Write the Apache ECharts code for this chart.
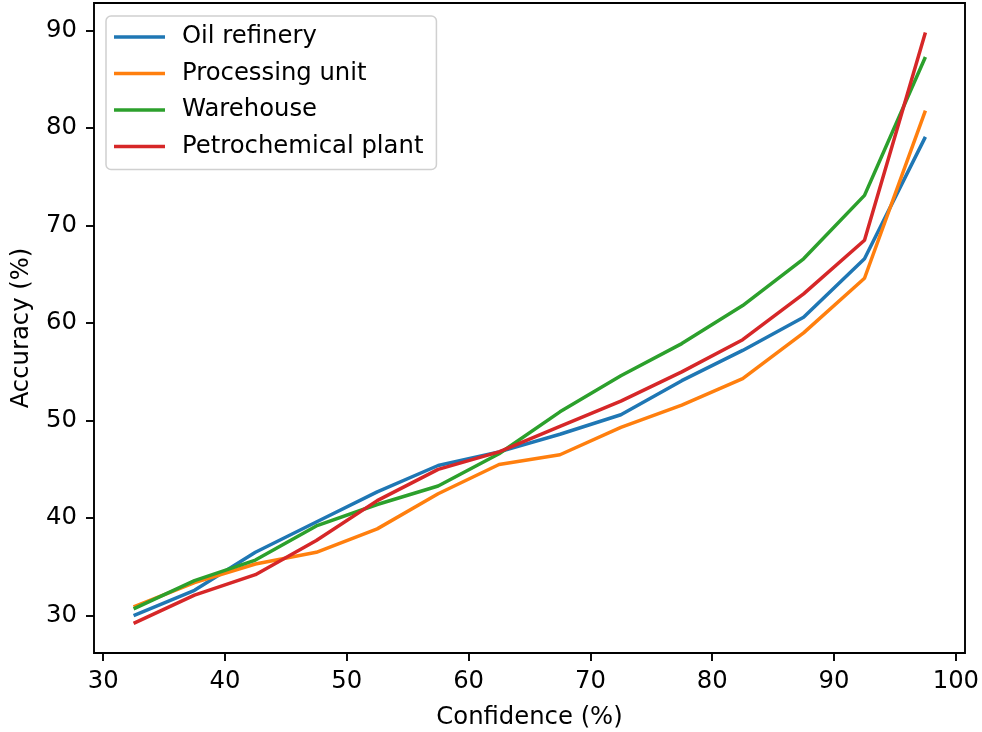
<!DOCTYPE html>
<html>
<head>
<meta charset="utf-8">
<script src="https://cdn.jsdelivr.net/npm/echarts@6/dist/echarts.min.js"></script>
<style>
  html, body { margin: 0; padding: 0; background: #fff; }
  #chart { width: 982px; height: 732px; }
</style>
</head>
<body>
<div id="chart"></div>
<script>
// confidence bins (x) and accuracy per site type (y)
const confidence = [32.5, 37.5, 42.5, 47.5, 52.5, 57.5, 62.5, 67.5, 72.5, 77.5, 82.5, 87.5, 92.5, 97.5]
const oilRefinery = [30.0, 32.6, 36.5, 39.6, 42.7, 45.4, 46.8, 48.6, 50.6, 54.1, 57.2, 60.6, 66.6, 79.1]
const processingUnit = [30.9, 33.4, 35.3, 36.5, 38.9, 42.5, 45.5, 46.5, 49.3, 51.6, 54.3, 59.0, 64.6, 81.8]
const warehouse = [30.7, 33.6, 35.7, 39.2, 41.4, 43.3, 46.6, 50.9, 54.6, 57.9, 61.8, 66.6, 73.1, 87.3]
const petrochemicalPlant = [29.2, 32.1, 34.2, 37.7, 41.8, 45.0, 46.8, 49.4, 52.0, 55.0, 58.3, 63.0, 68.5, 89.8]
const xTicks = [30, 40, 50, 60, 70, 80, 90, 100]
const yTicks = [30, 40, 50, 60, 70, 80, 90]

const font = 'DejaVu Sans'
const fontSize = 24.3
const colors = ['#1f77b4', '#ff7f0e', '#2ca02c', '#d62728']
const names = ['Oil refinery', 'Processing unit', 'Warehouse', 'Petrochemical plant']
const values = [oilRefinery, processingUnit, warehouse, petrochemicalPlant]

const chart = echarts.init(document.getElementById('chart'))

const option = {
  animation: false,
  backgroundColor: '#fff',
  textStyle: { fontFamily: font },
  grid: {
    left: 94,
    right: 17,
    top: 3,
    bottom: 79,
    containLabel: false,
    outerBoundsMode: 'none',
    show: true,
    borderColor: '#000',
    borderWidth: 1.9,
    backgroundColor: 'transparent'
  },
  legend: {
    orient: 'vertical',
    left: 106,
    top: 16,
    padding: [8, 13, 10, 8],
    icon: 'rect',
    itemWidth: 51,
    itemHeight: 3.6,
    itemGap: 10.5,
    backgroundColor: 'rgba(255,255,255,0.8)',
    borderColor: '#d0d0d0',
    borderWidth: 1.5,
    borderRadius: 5,
    textStyle: {
      fontFamily: font,
      fontSize: fontSize,
      lineHeight: 26,
      color: '#000',
      padding: [0, 0, 0, 12]
    },
    data: names
  },
  xAxis: {
    type: 'value',
    min: 29.25,
    max: 100.75,
    name: 'Confidence (%)',
    nameLocation: 'middle',
    nameGap: 53,
    nameTextStyle: { fontFamily: font, fontSize: fontSize, color: '#000' },
    axisLine: { show: false },
    axisTick: {
      show: true,
      length: 8,
      lineStyle: { color: '#000', width: 1.9 },
      customValues: xTicks
    },
    axisLabel: {
      fontFamily: font,
      fontSize: fontSize,
      color: '#000',
      margin: 17,
      customValues: xTicks
    },
    splitLine: { show: false }
  },
  yAxis: {
    type: 'value',
    min: 26.17,
    max: 92.83,
    name: 'Accuracy (%)',
    nameLocation: 'middle',
    nameGap: 60,
    nameRotate: 90,
    nameTextStyle: { fontFamily: font, fontSize: fontSize, color: '#000' },
    axisLine: { show: false },
    axisTick: {
      show: true,
      length: 8,
      lineStyle: { color: '#000', width: 1.9 },
      customValues: yTicks
    },
    axisLabel: {
      fontFamily: font,
      fontSize: fontSize,
      color: '#000',
      margin: 17,
      customValues: yTicks
    },
    splitLine: { show: false }
  },
  series: names.map((name, i) => ({
    name: name,
    type: 'line',
    symbol: 'none',
    color: colors[i],
    lineStyle: { width: 3.5, color: colors[i] },
    data: confidence.map((x, j) => [x, values[i][j]])
  }))
}

chart.setOption(option)
</script>
</body>
</html>
